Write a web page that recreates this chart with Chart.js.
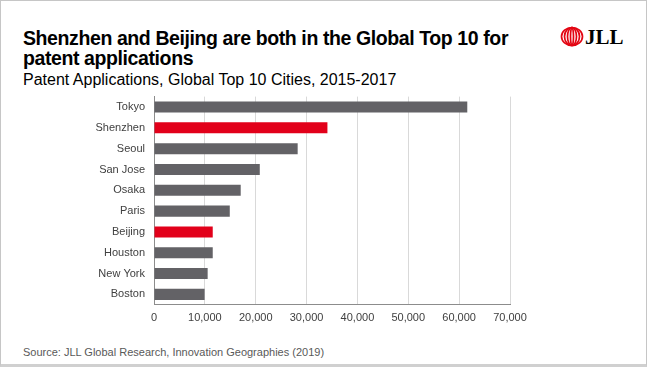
<!DOCTYPE html>
<html>
<head>
<meta charset="utf-8">
<script src="https://cdn.jsdelivr.net/npm/chart.js@4/dist/chart.umd.min.js"></script>
<style>
  html, body { margin: 0; padding: 0; background: #ffffff; }
  #frame {
    position: relative; width: 645px; height: 363px;
    border: 1px solid #c6c6c6; border-bottom: 3px solid #d0d0d0;
    background: #fff; font-family: "Liberation Sans", Arial, sans-serif; overflow: hidden;
  }
  #title { position: absolute; left: 22px; top: 28px; white-space: nowrap; font-size: 19.5px; font-weight: bold; line-height: 19.5px; color: #000; letter-spacing: -0.4px; }
  #subtitle { position: absolute; left: 22px; top: 70px; font-size: 16px; color: #000; }
  #source { position: absolute; left: 22px; top: 345px; font-size: 11px; color: #595959; }
  #logo { position: absolute; left: 559px; top: 24px; }
  #chartBox { position: absolute; left: 0; top: 80px; width: 645px; height: 253px; }
</style>
</head>
<body>
<div id="frame">
  <div id="title">Shenzhen and Beijing are both in the Global Top 10 for<br>patent applications</div>
  <div id="subtitle">Patent Applications, Global Top 10 Cities, 2015-2017</div>
  <svg id="logo" width="64" height="24" viewBox="0 0 64 24">
    <g fill="none" stroke="#e30613" stroke-width="1.7">
      <ellipse cx="12" cy="11.5" rx="10.5" ry="9"/>
      <ellipse cx="12" cy="11.5" rx="7.5" ry="9"/>
      <ellipse cx="12" cy="11.5" rx="4.5" ry="9"/>
      <ellipse cx="12" cy="11.5" rx="1.5" ry="9"/>
    </g>
    <text x="25" y="19" font-family="Liberation Serif, serif" font-weight="bold" font-size="21" fill="#000">JLL</text>
  </svg>
  <div id="chartBox"><canvas id="barChart"></canvas></div>
  <div id="source">Source: JLL Global Research, Innovation Geographies (2019)</div>
</div>
<script>
const cities = ["Tokyo", "Shenzhen", "Seoul", "San Jose", "Osaka", "Paris", "Beijing", "Houston", "New York", "Boston"];
const applications = [61600, 34100, 28250, 20800, 17050, 14900, 11550, 11550, 10550, 9950];
const highlighted = ["Shenzhen", "Beijing"];
const xTicks = [0, 10000, 20000, 30000, 40000, 50000, 60000, 70000];

const ctx = document.getElementById("barChart");

const barColors = cities.map((c) => (highlighted.includes(c) ? "#e2001a" : "#636266"));

new Chart(ctx, {
  type: "bar",
  data: {
    labels: cities,
    datasets: [
      {
        label: "Patent Applications",
        data: applications,
        backgroundColor: barColors,
        borderWidth: 0,
        categoryPercentage: 1,
        barPercentage: 0.53,
      },
    ],
  },
  options: {
    indexAxis: "y",
    responsive: true,
    maintainAspectRatio: false,
    animation: false,
    layout: { padding: { top: 0, right: 136, left: 0, bottom: 2 } },
    plugins: { legend: { display: false }, tooltip: { enabled: false } },
    scales: {
      x: {
        min: 0,
        max: 70000,
        afterBuildTicks: (axis) => {
          axis.ticks = xTicks.map((v) => ({ value: v }));
        },
        ticks: {
          padding: 7,
          color: "#404040",
          font: { family: "Liberation Sans, Arial", size: 11 },
          callback: (v) => v.toLocaleString("en-US"),
        },
        grid: { color: "#d9d9d9", drawTicks: false },
        border: { color: "#8c8c8c", width: 1 },
      },
      y: {
        afterFit: (axis) => {
          axis.width = 153;
        },
        ticks: {
          padding: 9,
          color: "#404040",
          font: { family: "Liberation Sans, Arial", size: 11 },
        },
        grid: { display: false, drawTicks: false },
        border: { color: "#8c8c8c", width: 1 },
      },
    },
  },
});
</script>
</body>
</html>
